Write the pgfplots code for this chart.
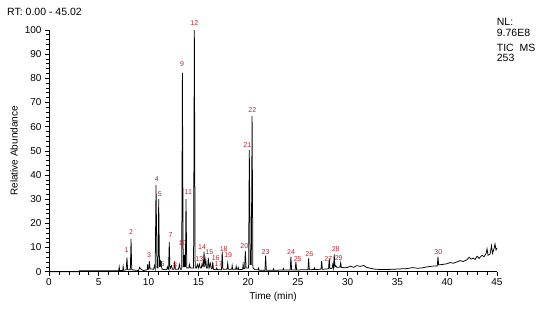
\documentclass[border=0pt]{standalone}
\usepackage{pgfplots}
\pgfplotsset{compat=1.18}
\usepackage{fontspec}
\setmainfont{Liberation Sans}
\definecolor{peakred}{RGB}{190,35,45}
\begin{document}
\begin{tikzpicture}
\path[use as bounding box] (-49pt,-37.3pt) rectangle (501pt,271.7pt);
\begin{axis}[
  scale only axis, width=448pt, height=241.7pt,
  at={(0,0)}, anchor=south west,
  xmin=0, xmax=45, ymin=0, ymax=100,
  axis x line*=bottom, axis y line*=left,
  axis line style={line width=0.8pt, -},
  xtick={0,5,...,45}, ytick={0,10,...,100},
  minor x tick num=4, minor y tick num=4,
  tick align=outside,
  major tick length=4pt, minor tick length=3pt,
  tick style={line width=0.7pt, black},
  /pgf/number format/assume math mode=true,
  tick label style={font=\fontsize{10}{12}\selectfont},
  xticklabel style={yshift=1pt},
  clip=false,
  xlabel={Time (min)}, ylabel={Relative Abundance},
  xlabel style={font=\fontsize{10}{12}\selectfont, at={(axis description cs:0.5,0)}, anchor=center, yshift=-25pt},
  ylabel style={font=\fontsize{10}{12}\selectfont, at={(axis description cs:-0.0781,0.5)}, anchor=center},
]
\addplot[black, line width=0.75pt] coordinates {
(0,0) (3.0,0) (3.05,0.4) (7.0,0.4) (7.05,2) (7.1,0.5) (7.4,0.5) (7.45,2.2) (7.5,0.6)
(7.75,0.8) (7.83,5.8) (7.9,0.8) (8.17,0.8) (8.24,13.5) (8.31,0.8) (9.0,0.5) (9.1,1.8)
(9.2,1.2) (9.3,0.8) (9.5,0.5) (9.85,0.8) (9.9,3) (9.95,1) (10.02,1) (10.08,4.4)
(10.15,1.2) (10.5,1) (10.6,2.5) (10.67,1.2) (10.75,35.9) (10.85,1.5) (10.95,1.5)
(11.02,30) (11.1,2) (11.18,4) (11.22,2) (11.28,4.5) (11.35,1) (11.8,0.8) (11.9,2)
(11.95,1) (12.01,1) (12.08,12.2) (12.15,1) (12.3,2.5) (12.4,1) (12.55,1) (12.62,3.5)
(12.7,1) (13.0,1) (13.1,3) (13.2,1) (13.33,1) (13.4,82.3) (13.48,2) (13.55,2)
(13.6,7) (13.66,2) (13.7,2) (13.76,30) (13.84,1.5) (14.05,1.5) (14.1,3) (14.2,1.5)
(14.52,1.5) (14.6,100) (14.68,1.5) (14.8,1.5) (14.9,3) (15.0,1.5) (15.1,3.2)
(15.2,1.5) (15.3,1.5) (15.38,3.5) (15.45,2) (15.5,2) (15.57,8.3) (15.65,2) (15.75,5)
(15.82,1.5) (15.93,1.5) (16.0,5.8) (16.08,1.5) (16.2,3.5) (16.3,1.2) (16.38,1.2)
(16.45,4) (16.52,1) (16.8,0.8) (16.85,1.5) (16.92,0.8) (17.33,0.8) (17.4,8.3)
(17.47,1) (17.88,1) (17.95,3.5) (18.02,1) (18.35,1) (18.4,2.5) (18.45,1) (18.75,1)
(18.8,2.2) (18.85,1) (18.95,1) (19.0,1.8) (19.05,0.8) (19.45,1) (19.5,3) (19.55,1.2)
(19.65,1.2) (19.72,8.6) (19.8,1.5) (20.05,1.5) (20.12,50.3) (20.22,3) (20.32,3)
(20.4,64.5) (20.48,1.5) (20.7,0.8) (21.0,0.8) (21.05,1.5) (21.1,0.6) (21.69,0.6)
(21.76,6.6) (21.83,0.6) (22.5,0.6) (22.55,1.2) (22.6,0.6) (23.5,0.7) (23.55,1.3)
(23.6,0.7) (24.23,0.7) (24.3,6.2) (24.37,0.7) (24.73,0.7) (24.8,4.1) (24.87,0.7)
(25.5,0.8) (26.01,0.8) (26.08,5.5) (26.15,0.8) (26.6,0.9) (26.65,1.6) (26.7,0.9)
(27.32,1) (27.39,4.4) (27.46,1) (28.08,1.2) (28.15,5.5) (28.22,1.2) (28.45,1.5)
(28.5,3) (28.58,1.5) (28.65,7.2) (28.72,2) (28.8,2.5) (28.9,1.8) (29.23,1.8)
(29.3,3.7) (29.37,1.8) (29.7,1.6) (30.0,1.8) (30.3,2.3) (30.6,1.8) (30.9,2.5)
(31.3,2.2) (31.6,2.6) (31.9,1.8) (32.3,1.4) (32.8,1.0) (33.5,0.9) (34.0,0.9)
(34.5,1.0) (35.0,1.1) (35.5,1.2) (36.0,1.3) (36.5,1.7) (37.0,1.4) (37.5,1.6)
(38.0,2.0) (38.5,2.3) (39.0,2.4) (39.07,6.2) (39.14,2.8) (39.5,3.0) (40.0,3.3)
(40.3,3.8) (40.6,3.5) (41.0,4.1) (41.3,4.6) (41.6,4.2) (42.0,5.0) (42.2,6.0)
(42.4,5.2) (42.6,5.6) (42.8,5.1) (43.0,6.4) (43.2,5.5) (43.5,6.8) (43.7,6.2)
(43.9,7.5) (44.0,9.5) (44.1,6.8) (44.3,7.2) (44.45,10.8) (44.55,7.6) (44.7,9.5)
(44.8,11.5) (44.9,9) (45.0,9.8)
};
\addplot[draw=none, no markers, nodes near coords, point meta=explicit symbolic,
  nodes near coords style={anchor=center, text=peakred, font=\fontsize{7}{8}\selectfont, inner sep=0pt}]
table[meta=l] {
x y l
7.8 9.0 1
8.24 16.3 2
10.04 6.9 3
10.82 38.4 4
11.12 32.1 5
11.42 3.0 6
12.22 15.2 7
12.66 2.6 8
13.36 85.8 9
13.43 12.0 10
14.0 33.1 11
14.6 102.8 12
15.1 5.1 13
15.37 10.3 14
16.1 7.9 15
16.74 5.5 16
17.04 3.0 17
17.55 9.4 18
18.0 6.9 19
19.62 10.6 20
19.92 52.4 21
20.42 66.9 22
21.76 8.0 23
24.31 8.3 24
24.98 5.4 25
26.15 7.2 26
28.06 5.3 27
28.8 9.3 28
29.1 5.5 29
39.1 8.1 30
};
\end{axis}
\node[anchor=west, font=\fontsize{10.5}{12}\selectfont, inner sep=0pt] at (-42pt,259.7pt) {RT: 0.00 - 45.02};
\node[anchor=west, font=\fontsize{10.5}{12}\selectfont, inner sep=0pt] at (447.7pt,249.7pt) {NL:};
\node[anchor=west, font=\fontsize{10.5}{12}\selectfont, inner sep=0pt] at (447.7pt,238.7pt) {9.76E8};
\node[anchor=west, font=\fontsize{10.5}{12}\selectfont, inner sep=0pt] at (447.7pt,223.7pt) {TIC\ \ MS};
\node[anchor=west, font=\fontsize{10.5}{12}\selectfont, inner sep=0pt] at (447.7pt,213.7pt) {253};
\end{tikzpicture}
\end{document}
